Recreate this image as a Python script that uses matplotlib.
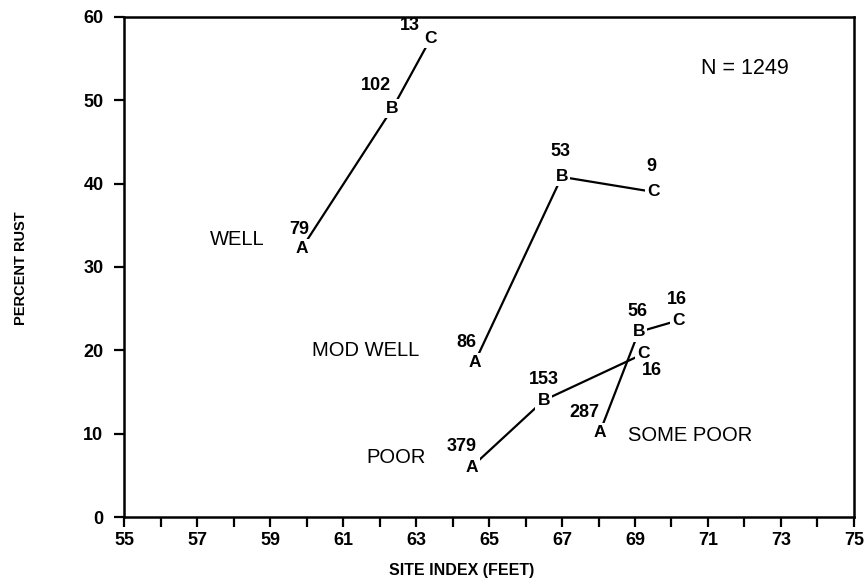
import matplotlib
matplotlib.use("Agg")
import matplotlib.pyplot as plt

# Data
groups = ["WELL", "MOD WELL", "POOR", "SOME POOR"]
letters = ["A", "B", "C"]
site_index = {
    "WELL": [59.86, 62.35, 63.4],
    "MOD WELL": [64.6, 66.99, 69.5],
    "POOR": [64.52, 66.5, 69.24],
    "SOME POOR": [68.03, 69.1, 70.2],
}
percent_rust = {
    "WELL": [32.2, 49.0, 57.4],
    "MOD WELL": [18.5, 40.8, 39.0],
    "POOR": [6.0, 14.0, 19.6],
    "SOME POOR": [10.1, 22.2, 23.6],
}
counts = {
    "WELL": [79, 102, 13],
    "MOD WELL": [86, 53, 9],
    "POOR": [379, 153, 16],
    "SOME POOR": [287, 56, 16],
}
# offsets of count labels (points)
count_offsets = {
    "WELL": [(-1.5, 14), (-11.5, 16.5), (-15, 9.5)],
    "MOD WELL": [(-6, 14.5), (-1, 18), (-1.5, 18.5)],
    "POOR": [(-7, 15), (0, 15), (6, -12.5)],
    "SOME POOR": [(-11, 14.5), (-1, 14.5), (-1.5, 15)],
}
group_label_pos = {
    "WELL": (58.1, 33.25),
    "MOD WELL": (61.61, 20.0),
    "POOR": (62.46, 7.2),
    "SOME POOR": (70.5, 9.8),
}
total_n = 1249

FAM = ["Liberation Sans", "DejaVu Sans"]

fig = plt.figure(figsize=(8.66, 5.79), dpi=100)
ax = fig.add_axes([0.1435, 0.107, 0.8425, 0.864])

for g in groups:
    xs, ys = site_index[g], percent_rust[g]
    ax.plot(xs, ys, color="black", lw=1.6, zorder=1)
    for i, (x, y) in enumerate(zip(xs, ys)):
        ax.text(x, y, letters[i], ha="center", va="center", fontsize=12.5,
                fontweight="bold", family=FAM,
                bbox=dict(boxstyle="square,pad=0.12", fc="white", ec="none"),
                zorder=3)
        ax.annotate(str(counts[g][i]), (x, y), xytext=count_offsets[g][i],
                    textcoords="offset points", ha="center", va="center",
                    fontsize=13, fontweight="bold", family=FAM, zorder=3)
    lx, ly = group_label_pos[g]
    ax.text(lx, ly, g, ha="center", va="center", fontsize=14.5, family=FAM)

ax.text(72.0, 53.8, f"N = {total_n}", ha="center", va="center", fontsize=15.5,
        family=FAM)

ax.set_xlim(55, 75)
ax.set_ylim(0, 60)
ax.set_xticks(range(55, 76, 1))
ax.set_xticklabels([str(v) if (v - 55) % 2 == 0 else "" for v in range(55, 76)])
ax.set_yticks(range(0, 61, 10))

for s in ax.spines.values():
    s.set_linewidth(1.8)
ax.tick_params(direction="out", length=7, width=1.6, labelsize=13, pad=4)
ax.tick_params(axis="y", pad=8)
for lab in ax.get_xticklabels() + ax.get_yticklabels():
    lab.set_fontweight("bold")
    lab.set_family(FAM)

fig.text(462 / 866, 1 - 570 / 579, "SITE INDEX (FEET)", ha="center", va="center",
         fontsize=11.5, fontweight="bold", family=FAM)
fig.text(21 / 866, 1 - 268 / 579, "PERCENT RUST", ha="center", va="center",
         rotation=90, fontsize=10.5, fontweight="bold", family=FAM)

fig.savefig("out.png", dpi=100)
